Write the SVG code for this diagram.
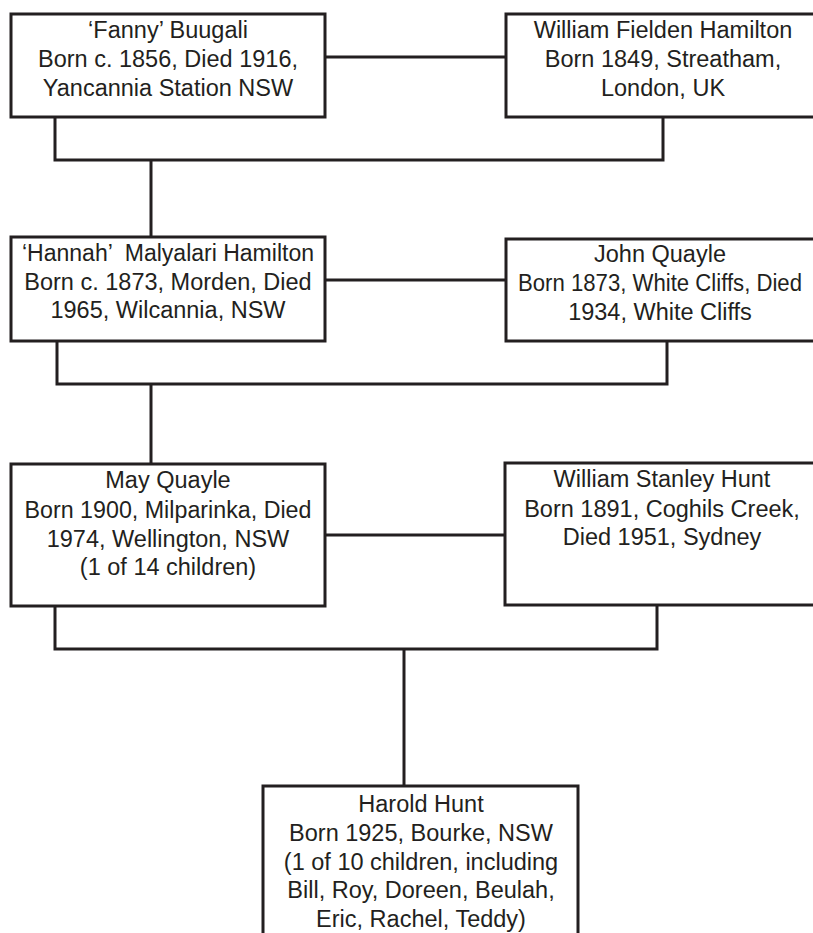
<svg xmlns="http://www.w3.org/2000/svg" width="813" height="933" viewBox="0 0 813 933">
<style>
.box{fill:#ffffff;stroke:#231f20;stroke-width:3}
.ln{fill:none;stroke:#231f20;stroke-width:3}
text{font-family:"Liberation Sans",Arial,Helvetica,sans-serif;font-size:23.5px;fill:#231f20;text-anchor:middle}
</style>
<rect width="813" height="933" fill="#ffffff"/>
<g id="connectors">
<line class="ln" x1="325" y1="57" x2="506" y2="57"/>
<polyline class="ln" points="55,117 55,160 663,160 663,117"/>
<line class="ln" x1="151" y1="160" x2="151" y2="237"/>
<line class="ln" x1="325" y1="280" x2="506" y2="280"/>
<polyline class="ln" points="57,341 57,384 667,384 667,341"/>
<line class="ln" x1="151" y1="384" x2="151" y2="464"/>
<line class="ln" x1="325" y1="535" x2="505" y2="535"/>
<polyline class="ln" points="55,606 55,649 657,649 657,605"/>
<line class="ln" x1="404" y1="649" x2="404" y2="786"/>
</g>
<g id="fanny">
<rect class="box" x="11" y="14" width="314" height="103"/>
<text x="168" y="38">‘Fanny’ Buugali</text>
<text x="168" y="67">Born c. 1856, Died 1916,</text>
<text x="168" y="96">Yancannia Station NSW</text>
</g>
<g id="william-fielden">
<rect class="box" x="506" y="14" width="320" height="103"/>
<text x="663" y="38">William Fielden Hamilton</text>
<text x="663" y="67">Born 1849, Streatham,</text>
<text x="663" y="96">London, UK</text>
</g>
<g id="hannah">
<rect class="box" x="11" y="237" width="314" height="104"/>
<text x="168" y="261" xml:space="preserve" textLength="292" lengthAdjust="spacingAndGlyphs">‘Hannah’  Malyalari Hamilton</text>
<text x="168" y="290">Born c. 1873, Morden, Died</text>
<text x="168" y="318">1965, Wilcannia, NSW</text>
</g>
<g id="john">
<rect class="box" x="506" y="239" width="320" height="102"/>
<text x="660" y="262">John Quayle</text>
<text x="660" y="291" textLength="284" lengthAdjust="spacingAndGlyphs">Born 1873, White Cliffs, Died</text>
<text x="660" y="320">1934, White Cliffs</text>
</g>
<g id="may">
<rect class="box" x="11" y="464" width="314" height="142"/>
<text x="168" y="488">May Quayle</text>
<text x="168" y="518" textLength="287" lengthAdjust="spacingAndGlyphs">Born 1900, Milparinka, Died</text>
<text x="168" y="547">1974, Wellington, NSW</text>
<text x="168" y="575">(1 of 14 children)</text>
</g>
<g id="william-stanley">
<rect class="box" x="505" y="463" width="320" height="142"/>
<text x="662" y="487">William Stanley Hunt</text>
<text x="662" y="517">Born 1891, Coghils Creek,</text>
<text x="662" y="545">Died 1951, Sydney</text>
</g>
<g id="harold">
<rect class="box" x="263" y="786" width="315" height="160"/>
<text x="421" y="812">Harold Hunt</text>
<text x="421" y="841">Born 1925, Bourke, NSW</text>
<text x="421" y="870">(1 of 10 children, including</text>
<text x="421" y="898">Bill, Roy, Doreen, Beulah,</text>
<text x="421" y="927">Eric, Rachel, Teddy)</text>
</g>
</svg>
